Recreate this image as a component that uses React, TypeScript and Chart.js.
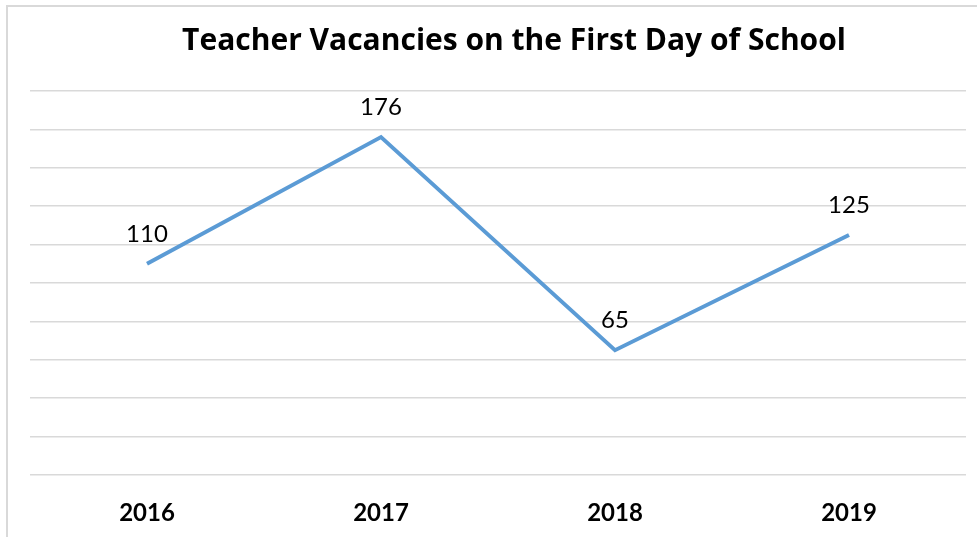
import React, { useEffect, useRef } from "react";
import { Chart, registerables } from "chart.js";

Chart.register(...registerables);

const categories = ["2016", "2017", "2018", "2019"];
const vacancies = [110, 176, 65, 125];
const yTicks = [0, 20, 40, 60, 80, 100, 120, 140, 160, 180, 200];
const titleText = "Teacher Vacancies on the First Day of School";

const FONT = "Lato, 'Open Sans', sans-serif";
const TITLE_FONT = "'Open Sans', Lato, sans-serif";

const labelPlugin = {
  id: "pointLabels",
  afterDatasetsDraw(chart: any) {
    const ctx = chart.ctx;
    const meta = chart.getDatasetMeta(0);
    ctx.save();
    ctx.font = `24px ${FONT}`;
    ctx.fillStyle = "#000000";
    ctx.textAlign = "center";
    ctx.textBaseline = "middle";
    meta.data.forEach((pt: any, i: number) => {
      ctx.fillText(String(vacancies[i]), pt.x, pt.y - 30);
    });
    ctx.restore();
  },
};

// The original chart frame extends past the right edge, so its title is centred further right.
const titleShiftPlugin = {
  id: "titleShift",
  afterLayout(chart: any) {
    const t = chart.titleBlock;
    if (t) {
      t.left = 62;
      t.right = 966;
    }
  },
};

export default function App() {
  const ref = useRef<HTMLCanvasElement | null>(null);
  useEffect(() => {
    if (!ref.current) return;
    const chart = new Chart(ref.current, {
      type: "line",
      data: {
        labels: categories,
        datasets: [
          {
            data: vacancies,
            borderColor: "#5b9bd5",
            borderWidth: 4,
            pointRadius: 0,
            tension: 0,
            fill: false,
          },
        ],
      },
      options: {
        animation: false,
        responsive: false,
        maintainAspectRatio: false,
        layout: { padding: { left: 0, right: 11, top: 0, bottom: 0 } },
        plugins: {
          legend: { display: false },
          tooltip: { enabled: false },
          title: {
            display: true,
            text: titleText,
            color: "#000000",
            font: { family: TITLE_FONT, size: 30, weight: "bold", lineHeight: 1.2 },
            padding: { top: 23, bottom: 32 },
          },
        },
        scales: {
          x: {
            offset: true,
            grid: { display: false, drawTicks: false },
            border: { display: false },
            ticks: {
              color: "#000000",
              font: { family: FONT, size: 24, weight: "bold" },
              padding: 24,
            },
            afterFit: (s: any) => {
              s.height = 62;
            },
          },
          y: {
            min: 0,
            max: 200,
            afterBuildTicks: (s: any) => {
              s.ticks = yTicks.map((v) => ({ value: v }));
            },
            grid: { color: "#d9d9d9", lineWidth: 1.5, drawTicks: false },
            border: { display: false },
            ticks: { display: false },
            afterFit: (s: any) => {
              s.width = 30;
            },
          },
        },
      },
      plugins: [labelPlugin, titleShiftPlugin],
    });
    return () => chart.destroy();
  }, []);

  return (
    <div
      style={{
        position: "fixed",
        left: 0,
        top: 0,
        width: 977,
        height: 537,
        background: "#ffffff",
        overflow: "hidden",
      }}
    >
      <div
        style={{
          position: "absolute",
          left: 6,
          top: 5,
          width: 1100,
          height: 700,
          border: "2px solid #d9d9d9",
          boxSizing: "border-box",
        }}
      />
      <canvas
        ref={ref}
        width={977}
        height={537}
        style={{ position: "absolute", left: 0, top: 0, width: 977, height: 537 }}
      />
    </div>
  );
}
